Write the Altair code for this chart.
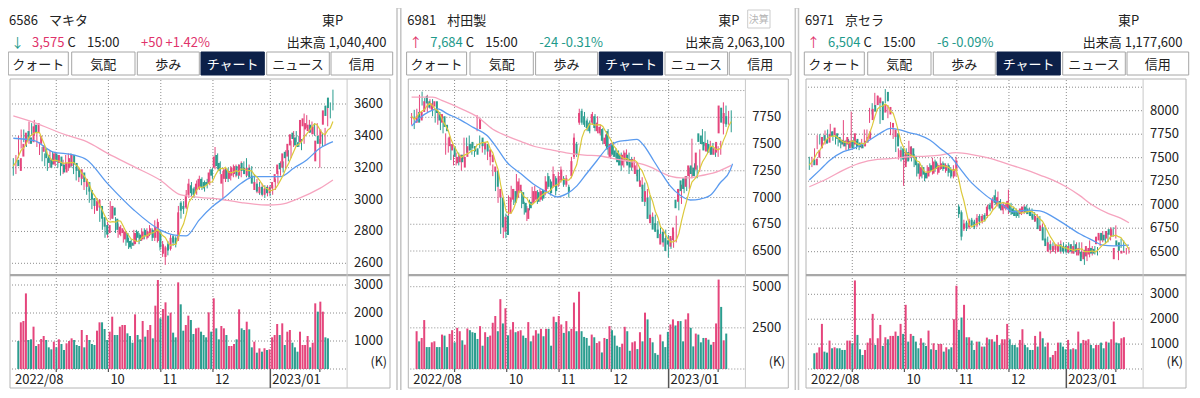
import altair as alt
import pandas as pd

FONT = "Noto Sans CJK JP"
PINK = "#e5457c"
TEAL = "#2b9d8f"
YEL = "#dcc93c"
BLUE = "#5b9bef"
MAPINK = "#f6a4bf"
GRID = "#8c8c8c"
TXT = "#222222"
HPINK = "#e0336b"
HTEAL = "#1e9a8b"

# ---------------- data ----------------
DATE_LABELS = ["2022/08", "10", "11", "12", "2023/01"]
DATE_POS = [-0.1, 36.3, 56.3, 76.2, 98.1]
MONTH_GRID = [16.4, 36.3, 56.3, 76.2, 98.1]
MONTH_TICKS = [16.4, 36.3, 56.3, 76.2, 117.0]
YEAR_LINE = [98.1]
TABS = ["クォート", "気配", "歩み", "チャート", "ニュース", "信用"]

# candles: (open, close, high, low)
MK_CANDLES = [
    (3250,3210,3260,3150),(3180,3260,3280,3160),(3270,3350,3400,3260),(3340,3420,3440,3320),(3430,3380,3440,3360),
    (3390,3350,3400,3330),(3360,3460,3490,3350),(3470,3420,3480,3400),(3420,3480,3500,3400),(3350,3400,3420,3330),
    (3300,3340,3360,3280),(3320,3260,3330,3240),(3280,3230,3290,3210),(3250,3200,3260,3180),(3220,3290,3310,3200),
    (3290,3240,3300,3220),(3230,3280,3300,3210),(3270,3210,3280,3200),(3220,3170,3230,3150),(3170,3230,3250,3160),
    (3200,3260,3280,3190),(3210,3280,3290,3180),(3280,3220,3290,3200),(3230,3180,3240,3160),(3190,3140,3200,3120),
    (3130,3190,3200,3110),(3170,3110,3180,3090),(3080,3130,3150,3060),(3110,3050,3120,3030),(3060,3000,3070,2980),
    (3010,2960,3020,2940),(2930,2990,3000,2910),(2950,3000,3010,2930),(2960,2880,2970,2860),(2890,2830,2900,2810),
    (2840,2780,2850,2760),(2790,2840,2860,2760),(2880,2960,2990,2870),(2950,2900,2960,2880),(2880,2810,2890,2790),
    (2780,2830,2850,2760),(2790,2820,2840,2770),(2750,2800,2810,2730),(2790,2730,2800,2710),(2740,2700,2760,2690),
    (2730,2710,2750,2690),(2720,2790,2810,2710),(2800,2760,2810,2740),(2780,2740,2790,2720),(2750,2800,2820,2740),
    (2810,2770,2820,2750),(2760,2800,2820,2750),(2780,2820,2840,2770),(2810,2760,2820,2740),(2760,2830,2870,2740),
    (2740,2860,2880,2730),(2800,2700,2810,2680),(2660,2720,2740,2640),(2640,2700,2710,2590),(2720,2680,2740,2650),
    (2690,2760,2780,2680),(2770,2730,2780,2710),(2760,2720,2770,2700),(2750,2920,2960,2740),(2980,2930,2990,2880),
    (2960,2940,2990,2910),(2950,3030,3060,2940),(3030,3100,3130,3010),(3090,3040,3110,3020),(3070,3030,3080,3010),
    (3040,3100,3120,3030),(3070,3130,3150,3060),(3130,3080,3140,3060),(3110,3070,3120,3050),(3110,3090,3130,3070),
    (3100,3170,3190,3090),(3190,3150,3200,3130),(3200,3270,3330,3190),(3280,3210,3290,3190),(3230,3180,3240,3160),
    (3100,3160,3180,3010),(3130,3190,3200,3110),(3190,3130,3200,3110),(3130,3180,3210,3120),(3150,3200,3220,3140),
    (3160,3210,3220,3140),(3210,3150,3220,3130),(3150,3220,3240,3140),(3230,3180,3240,3160),(3200,3160,3260,3140),
    (3150,3200,3220,3130),(3200,3140,3210,3120),(3150,3100,3160,3080),(3060,3110,3130,3040),(3100,3050,3110,3030),
    (3040,3080,3100,3020),(3080,3030,3090,3010),(3030,3070,3090,3020),(3080,3040,3090,3020),(3040,3080,3090,3030),
    (3070,3110,3130,3060),(3110,3160,3180,3100),(3160,3220,3240,3150),(3230,3190,3240,3170),(3200,3290,3310,3190),
    (3300,3260,3310,3240),(3270,3350,3370,3260),(3340,3410,3430,3330),(3420,3380,3430,3360),(3390,3340,3400,3330),
    (3360,3330,3380,3310),(3360,3500,3540,3350),(3460,3510,3530,3450),(3440,3480,3500,3420),(3430,3470,3490,3410),
    (3470,3420,3480,3400),(3410,3460,3480,3400),(3240,3370,3380,3200),(3400,3350,3420,3330),(3350,3440,3450,3340),
    (3470,3560,3590,3460),(3590,3525,3610,3510),(3640,3575,3690,3560),
]
MK_VOL = [
    1000,1667,1714,2700,1036,1060,1512,821,893,1071, 1179,1036,774,702,976,774,1060,893,679,917,
    1000,1095,1036,857,821,1393,774,1214,1036,893, 857,1369,1667,1667,1429,1036,1333,1869,1214,1214,
    1512,1571,1571,1274,1179,940,1952,1214,1060,1714, 1155,1393,1571,1095,2262,3179,1810,2143,2381,1905,
    2012,1298,1131,3095,2310,1369,1571,1905,1750,1250, 1452,1476,1333,1214,1131,2024,1333,2524,1452,1060,
    1536,1452,1214,821,821,893,1060,2131,1452,1393, 1690,1417,774,976,583,738,619,738,679,702,
    1131,1214,1607,1214,1631,857,1333,1393,940,774, 619,1333,857,857,1179,774,940,2345,2048,2405,
    2048,1131,1095,
]
MK_MA25_I = [0,8,15,23,28,36,46,56,61,66,71,76,81,87,92,97,102,107,112,117,122]
MK_MA25_V = [3385,3370,3300,3280,3250,3100,2935,2810,2779,2772,2873,2956,3019,3103,3144,3144,3144,3197,3249,3322,3364]
MK_MA75_I = [0,8,20,28,36,46,56,64,71,79,87,97,102,109,117,122]
MK_MA75_V = [3525,3483,3406,3364,3290,3207,3123,3029,3014,3002,2981,2966,2970,3008,3070,3123]

MU_CANDLES = [
    (7700,7760,7790,7680),(7800,7700,7820,7640),(7720,7800,7830,7700),(7800,7900,7960,7790),(7950,7880,7990,7860),
    (7900,7840,7930,7820),(7820,7880,7960,7800),(7850,7900,7920,7830),(7900,7790,7920,7760),(7800,7720,7820,7700),
    (7700,7780,7810,7680),(7760,7660,7780,7630),(7680,7620,7700,7600),(7480,7570,7600,7400),(7440,7500,7560,7420),
    (7480,7380,7500,7350),(7320,7380,7400,7300),(7330,7400,7420,7300),(7400,7330,7420,7300),(7280,7380,7400,7250),
    (7380,7480,7560,7360),(7500,7440,7560,7420),(7520,7460,7580,7440),(7480,7430,7500,7400),(7460,7400,7480,7380),
    (7640,7740,7770,7620),(7560,7480,7580,7460),(7450,7520,7540,7420),(7500,7430,7520,7400),(7380,7450,7470,7350),
    (7330,7400,7420,7300),(7240,7290,7310,7200),(7250,7100,7260,7060),(7000,7080,7100,6950),(7000,6720,7020,6660),
    (6680,6820,6840,6620),(6830,6650,6850,6620),(6850,7000,7020,6830),(6980,7080,7110,6960),(7060,6950,7080,6930),
    (7000,7150,7220,6980),(7060,7120,7180,7040),(7050,6940,7070,6900),(6950,6860,6960,6840),(6800,6900,6920,6780),
    (6960,6900,6980,6880),(6950,7060,7100,6940),(6980,7060,7110,6960),(7050,6960,7070,6940),(6980,7060,7080,6960),
    (7070,6990,7080,6970),(7040,7150,7200,7020),(7200,7100,7230,7080),(7150,7040,7170,7020),(7100,7220,7290,7090),
    (7180,7060,7200,7020),(7120,7200,7240,7100),(7160,7260,7290,7140),(7180,7120,7200,7100),(7120,7180,7210,7100),
    (7100,7050,7120,7000),(7200,7340,7380,7180),(7380,7560,7600,7360),(7500,7400,7520,7380),(7700,7790,7830,7680),
    (7810,7700,7830,7680),(7760,7680,7800,7660),(7720,7650,7740,7620),(7700,7620,7720,7600),(7700,7780,7800,7680),
    (7760,7650,7780,7620),(7620,7700,7760,7600),(7600,7660,7680,7580),(7640,7530,7650,7500),(7500,7560,7590,7480),
    (7620,7450,7640,7400),(7380,7500,7510,7360),(7500,7400,7520,7380),(7440,7380,7460,7360),(7420,7330,7440,7300),
    (7400,7300,7420,7250),(7300,7400,7440,7280),(7340,7420,7450,7320),(7400,7300,7420,7220),(7360,7280,7380,7250),
    (7280,7360,7380,7260),(7220,7300,7330,7200),(7260,7150,7280,7120),(7100,7160,7190,7080),(7120,6960,7140,6920),
    (6960,7060,7080,6940),(7000,6800,7020,6780),(6760,6840,6860,6740),(6820,6700,6840,6680),(6760,6680,6780,6660),
    (6700,6620,6720,6600),(6560,6660,6700,6540),(6680,6580,6700,6560),(6620,6500,6650,6440),(6600,6560,6620,6520),
    (6540,6640,6680,6530),(6600,6720,6830,6580),(6980,6900,7080,6880),(6960,7080,7120,6940),(7160,7060,7180,7040),
    (7180,7080,7200,7060),(7100,7200,7280,7080),(7200,7300,7550,7180),(7300,7220,7320,7200),(7280,7200,7300,7180),
    (7260,7420,7450,7240),(7600,7520,7640,7500),(7580,7500,7620,7480),(7520,7440,7540,7420),(7430,7510,7530,7400),
    (7500,7420,7510,7400),(7480,7400,7500,7380),(7400,7460,7480,7380),(7420,7520,7530,7400),(7600,7860,7890,7590),
    (7840,7700,7860,7660),(7690,7790,7810,7680),(7760,7684,7815,7610),
]
MU_VOL = [
    2296,1681,1886,2973,1332,1332,1620,1681,1332,1332, 2091,2030,1332,2132,2358,1620,2501,2296,1743,1476,
    2460,2358,2235,2194,1825,2604,1415,2235,1948,2030, 2809,3219,2296,4244,2768,3690,2050,2399,2850,2235,
    2296,2358,2030,1886,2850,1681,2030,2358,2153,2440, 1989,2440,2440,1415,3178,2850,3219,2706,2194,2911,
    2296,2440,4039,2296,4695,2296,1948,1886,1415,2091, 1927,1579,1681,1005,1886,1825,2604,2358,2030,1415,
    1332,1538,2563,2296,1107,1620,1681,1210,2235,1681, 3424,3014,1886,1620,964,861,2091,1681,1332,2255,
    2706,3014,2645,2911,2911,1681,3014,3383,2501,1374, 2153,2091,1620,1886,1886,1784,1476,1640,2768,5433,
    3772,1743,2153,
]
MU_MA25_I = [0,3,6.5,10,13.5,18.6,23.7,28.8,32.6,36.4,41.5,46.6,51.7,55.5,59.3,63.1,66.9,70.7,74.6,78.4,82.2,86,88.5,92.4,96.2,98.7,102.5,106.4,110.2,114,117.8,121.6,122.5]
MU_MA25_V = [7668,7741,7800,7829,7785,7726,7653,7579,7462,7330,7227,7124,7050,7006,7036,7109,7227,7344,7462,7521,7535,7544,7491,7344,7197,7109,7021,6977,6986,7021,7138,7256,7315]
MU_MA75_I = [0,8,12,19,25,31,36,42,47,53,59,66,72,78,85,91,96,99,103,106,110,115,122]
MU_MA75_V = [7938,7938,7903,7829,7756,7638,7579,7521,7477,7447,7418,7397,7388,7359,7330,7286,7227,7197,7183,7183,7203,7227,7300]

KY_CANDLES = [
    (7480,7420,7510,7370),(7420,7490,7510,7400),(7500,7580,7600,7480),(7600,7720,7740,7590),(7740,7680,7750,7640),
    (7700,7650,7720,7620),(7660,7750,7790,7640),(7780,7730,7800,7700),(7740,7820,7860,7720),(7760,7700,7780,7680),
    (7720,7660,7740,7640),(7690,7640,7720,7620),(7680,7620,7700,7600),(7640,7720,7900,7620),(7600,7680,7690,7580),
    (7680,7600,7700,7580),(7640,7760,7990,7620),(7700,7620,7720,7600),(7660,7610,7680,7590),(7640,7600,7660,7580),
    (7620,7680,7700,7600),(7660,7720,7800,7640),(7700,7780,7800,7680),(7900,8020,8030,7870),(8060,7990,8080,7960),
    (8060,8160,8190,8040),(8080,8140,8160,8060),(8100,7900,8120,7860),(7980,8060,8080,7960),(8200,8100,8230,8080),
    (7960,8040,8060,7920),(7820,7870,7880,7740),(7720,7800,7820,7700),(7760,7620,7780,7560),(7500,7580,7600,7480),
    (7600,7480,7620,7460),(7400,7560,7580,7200),(7560,7460,7600,7440),(7500,7620,7680,7480),(7600,7500,7620,7460),
    (7520,7420,7540,7400),(7440,7330,7460,7300),(7300,7400,7440,7270),(7400,7320,7420,7280),(7340,7280,7360,7250),
    (7300,7400,7420,7280),(7420,7360,7440,7340),(7330,7460,7500,7320),(7460,7380,7480,7350),(7340,7420,7440,7320),
    (7380,7440,7500,7370),(7440,7380,7460,7360),(7360,7420,7440,7340),(7420,7340,7440,7300),(7380,7300,7400,7280),
    (7300,7380,7420,7280),(7360,7470,7510,7300),(6980,6900,7000,6860),(6920,6660,6940,6620),(6740,6800,6840,6720),
    (6810,6750,6830,6720),(6760,6830,6850,6740),(6840,6780,6860,6760),(6820,6760,6840,6740),(6780,6860,6900,6760),
    (6880,6820,6900,6780),(6820,6880,6900,6800),(6890,6840,6910,6820),(6880,6980,7000,6860),(7000,6950,7020,6930),
    (6960,7060,7080,6940),(7100,7020,7160,7000),(7000,7080,7140,6980),(7040,6960,7060,6940),(6940,7000,7020,6900),
    (6960,7000,7020,6940),(6960,7040,7160,6900),(7000,6920,7020,6890),(6960,6900,6980,6880),(6940,6880,6960,6860),
    (6920,6880,6940,6860),(6900,6960,6980,6890),(6920,6980,7000,6900),(6980,6920,7000,6900),(6960,6900,6970,6880),
    (6940,6880,6960,6860),(6900,6840,6920,6820),(6820,6880,6900,6800),(6860,6740,6880,6720),(6720,6780,6800,6700),
    (6760,6620,6780,6600),(6640,6560,6660,6540),(6500,6600,6620,6480),(6580,6520,6600,6500),(6500,6560,6580,6480),
    (6520,6580,6600,6500),(6500,6560,6620,6480),(6580,6500,6600,6480),(6560,6500,6580,6480),(6560,6500,6600,6480),
    (6490,6560,6580,6480),(6580,6500,6620,6480),(6480,6560,6600,6460),(6580,6500,6600,6480),(6460,6540,6600,6440),
    (6500,6400,6520,6360),(6420,6500,6520,6400),(6450,6560,6620,6440),(6470,6540,6560,6460),(6540,6480,6560,6470),
    (6530,6480,6550,6460),(6580,6660,6680,6560),(6620,6700,6720,6600),(6700,6620,6720,6590),(6680,6620,6700,6600),
    (6640,6720,6760,6620),(6740,6680,6760,6660),(6660,6740,6780,6640),(6420,6540,6550,6410),(6620,6560,6640,6540),
    (6600,6510,6620,6500),(6480,6510,6540,6470),(6490,6504,6550,6480),
]
KY_VOL = [
    631,658,872,1812,698,658,1141,832,872,832, 832,765,765,1141,1141,1033,3556,1369,792,564,
    765,1060,1235,2214,966,1235,1771,926,1275,1194, 1329,1329,1503,1329,1812,1409,2577,1100,1409,1329,
    1100,832,1235,1060,926,1543,792,1033,765,1006, 1006,698,872,792,872,2000,3342,1570,2067,2577,
    1275,1275,1141,765,1100,1100,899,899,1261,1194, 1194,1100,1369,966,1194,1194,1812,1194,966,966,
    872,1168,1597,966,872,765,765,1329,899,1503, 1235,899,1060,470,564,725,1060,1060,899,792,
    1168,792,832,792,1503,1033,1168,1141,1194,966, 832,966,966,1060,832,1100,1060,1194,1906,1060,
    1033,1235,1275,
]
KY_MA25_I = [0,4,8,13,17,22,27,31,35,38,42,46,50,54,57.5,61,65,69,73,78,83,88,93,98,103,108,112,116,122]
KY_MA25_V = [7262,7368,7475,7564,7599,7670,7759,7812,7794,7766,7741,7688,7599,7510,7386,7262,7155,7066,7013,6924,6942,6935,6871,6783,6694,6623,6570,6562,6570]
KY_MA75_I = [0,7,13,19,26,32,38,45,50,56,63,69,75,83,88,93,98,103,108,114,119,122]
KY_MA75_V = [7191,7279,7368,7439,7482,7492,7510,7517,7528,7553,7528,7492,7439,7368,7315,7262,7191,7102,6996,6907,6854,6808]

STOCKS = [
    dict(code="6586", name="マキタ", arrow="↓", arrow_c=HTEAL, price="3,575", price_c=HPINK,
         chg="+50 +1.42%", vol_txt="出来高 1,040,400", market_x=322,
         candles=MK_CANDLES, vol=MK_VOL, m25=(MK_MA25_I, MK_MA25_V), m75=(MK_MA75_I, MK_MA75_V),
         pdom=[2600, 3600], prng=[255.3, 96.0], pgrid=[2600, 2800, 3000, 3200, 3400, 3600],
         pticks=[2600, 2800, 3000, 3200, 3400, 3600],
         vdom=[0, 3000], vrng=[361.0, 277.0], vticks=[1000, 2000, 3000]),
    dict(code="6981", name="村田製", arrow="↑", arrow_c=HPINK, price="7,684", price_c=HTEAL,
         chg="-24 -0.31%", vol_txt="出来高 2,063,100", market_x=320,
         candles=MU_CANDLES, vol=MU_VOL, m25=(MU_MA25_I, MU_MA25_V), m75=(MU_MA75_I, MU_MA75_V),
         pdom=[6500, 7750], prng=[243.0, 109.3], pgrid=[6500, 6750, 7000, 7250, 7500, 7750, 8000],
         pticks=[6500, 6750, 7000, 7250, 7500, 7750],
         vdom=[0, 5000], vrng=[361.0, 278.7], vticks=[2500, 5000]),
    dict(code="6971", name="京セラ", arrow="↑", arrow_c=HPINK, price="6,504", price_c=HTEAL,
         chg="-6 -0.09%", vol_txt="出来高 1,177,600", market_x=322,
         candles=KY_CANDLES, vol=KY_VOL, m25=(KY_MA25_I, KY_MA25_V), m75=(KY_MA75_I, KY_MA75_V),
         pdom=[6500, 8000], prng=[243.7, 102.7], pgrid=[6500, 6750, 7000, 7250, 7500, 7750, 8000, 8250],
         pticks=[6500, 6750, 7000, 7250, 7500, 7750, 8000],
         vdom=[0, 3000], vrng=[361.0, 286.3], vticks=[1000, 2000, 3000]),
]

OFFS = [0.0, 398.3, 796.0]
TAB_X = [(8.3, 68.3), (71.7, 135.0), (137.3, 199.3), (201.0, 264.3), (266.7, 329.3), (331.0, 392.7)]
D = 8.0  # page margin offset


def P(v):
    return v - D


# ---------------- decoration (layout) ----------------
HF = 13
rects, texts_l, texts_r, texts_c = [], [], [], []
for k, s in enumerate(STOCKS):
    off = OFFS[k]
    rects.append(dict(x=P(off + 2.5), x2=P(off + 397), y=P(3), y2=P(395.5), fill="#ffffff", stroke="#c4c4c4", sw=1.5))
    rects.append(dict(x=P(off + 10), x2=P(off + 390), y=P(79), y2=P(388), fill="#ffffff", stroke="#b4b4b4", sw=1))
    for j, (a, b) in enumerate(TAB_X):
        active = j == 3
        rects.append(dict(x=P(off + a), x2=P(off + b), y=P(52), y2=P(75),
                          fill="#0c2048" if active else "#ffffff",
                          stroke="#0c2048" if active else "#a6a6a6", sw=1))
        texts_c.append(dict(x=P(off + (a + b) / 2), y=P(64.5), t=TABS[j],
                            c="#ffffff" if active else TXT, s=13))
    if k == 1:
        rects.append(dict(x=P(off + 349.4), x2=P(off + 371.7), y=P(10), y2=P(28), fill="#ffffff", stroke="#cccccc", sw=1))
        texts_c.append(dict(x=P(off + 360.5), y=P(19.5), t="決算", c="#b5b5b5", s=10))
    texts_l += [
        dict(x=P(off + 9), y=P(20.5), t=s["code"], c=TXT, s=HF),
        dict(x=P(off + 49), y=P(20.5), t=s["name"], c=TXT, s=HF),
        dict(x=P(off + s["market_x"]), y=P(20.5), t="東P", c=TXT, s=HF),
        dict(x=P(off + 11), y=P(42.5), t=s["arrow"], c=s["arrow_c"], s=HF),
        dict(x=P(off + 32), y=P(42.5), t=s["price"], c=s["price_c"], s=HF),
        dict(x=P(off + 67.5), y=P(42.5), t="C", c=TXT, s=HF),
        dict(x=P(off + 87), y=P(42.5), t="15:00", c=TXT, s=HF),
        dict(x=P(off + 141), y=P(42.5), t=s["chg"], c=s["price_c"], s=HF),
    ]
    texts_r.append(dict(x=P(off + 386.5), y=P(42.5), t=s["vol_txt"], c=TXT, s=HF))
    texts_r.append(dict(x=P(off + 387), y=P(362), t="(K)", c=TXT, s=12.5))

sep_rects = []
for k in range(3):
    off = OFFS[k]
    sep_rects.append(dict(x=P(off + 10), x2=P(off + 390), y=P(274), y2=P(276.2), fill="#a8a8a8", stroke="#a8a8a8", sw=0))
    sep_rects.append(dict(x=P(off + 346.6), x2=P(off + 347.6), y=P(79), y2=P(388), fill="#c8c8c8", stroke="#c8c8c8", sw=0))


def rect_layer(rows):
    return alt.Chart(pd.DataFrame(rows)).mark_rect().encode(
        x=alt.X("x:Q", scale=None, axis=None), x2="x2:Q",
        y=alt.Y("y:Q", scale=None, axis=None), y2="y2:Q",
        fill=alt.Fill("fill:N", scale=None),
        stroke=alt.Stroke("stroke:N", scale=None),
        strokeWidth=alt.StrokeWidth("sw:Q", scale=None),
    )


def text_layer(rows, align):
    return alt.Chart(pd.DataFrame(rows)).mark_text(align=align, baseline="middle", font=FONT).encode(
        x=alt.X("x:Q", scale=None, axis=None), y=alt.Y("y:Q", scale=None, axis=None),
        text="t:N", color=alt.Color("c:N", scale=None), size=alt.Size("s:Q", scale=None),
    )


# ---------------- chart panels ----------------
def panel(k, s):
    off = OFFS[k]
    x0 = P(off + 13.3)
    xs = alt.Scale(domain=[0, 122], range=[x0, x0 + 122 * 2.62])
    ys = alt.Scale(domain=s["pdom"], range=s["prng"], zero=False, nice=False)
    vs = alt.Scale(domain=s["vdom"], range=s["vrng"], zero=False, nice=False)
    cd = s["candles"]
    df = pd.DataFrame({
        "i": list(range(len(cd))),
        "o": [t[0] for t in cd], "c": [t[1] for t in cd],
        "h": [t[2] for t in cd], "l": [t[3] for t in cd],
        "v": s["vol"], "z": [0] * len(cd),
    })
    col = alt.condition("datum.c >= datum.o", alt.value(PINK), alt.value(TEAL))
    X = alt.X("i:Q", scale=xs, axis=None)
    base = alt.Chart(df)
    L = []
    # grid
    L.append(alt.Chart(pd.DataFrame({"t": s["pgrid"]})).mark_rule(color=GRID, strokeDash=[1, 2], strokeWidth=1).encode(
        y=alt.Y("t:Q", scale=ys, axis=None), x=alt.value(P(off + 12)), x2=alt.value(P(off + 346.5))))
    L.append(alt.Chart(pd.DataFrame({"t": [0] + s["vticks"]})).mark_rule(color=GRID, strokeDash=[1, 2], strokeWidth=1).encode(
        y=alt.Y("t:Q", scale=vs, axis=None), x=alt.value(P(off + 12)), x2=alt.value(P(off + 346.5))))
    L.append(alt.Chart(pd.DataFrame({"g": MONTH_GRID})).mark_rule(color=GRID, strokeDash=[1, 2], strokeWidth=1).encode(
        x=alt.X("g:Q", scale=xs, axis=None), y=alt.value(P(80)), y2=alt.value(P(369))))
    L.append(alt.Chart(pd.DataFrame({"g": MONTH_TICKS})).mark_rule(color="#555555", strokeWidth=1.2).encode(
        x=alt.X("g:Q", scale=xs, axis=None), y=alt.value(P(369)), y2=alt.value(P(372))))
    L.append(alt.Chart(pd.DataFrame({"g": YEAR_LINE})).mark_rule(color="#555555", strokeWidth=1.5).encode(
        x=alt.X("g:Q", scale=xs, axis=None), y=alt.value(P(369)), y2=alt.value(P(388))))
    # candles
    L.append(base.mark_rule(strokeWidth=1).encode(
        x=X, y=alt.Y("l:Q", scale=ys, axis=None), y2="h:Q", color=col))
    L.append(base.mark_bar(size=2).encode(
        x=X, y=alt.Y("o:Q", scale=ys, axis=None), y2="c:Q", color=col))
    # volume
    L.append(base.mark_bar(size=2).encode(
        x=X, y=alt.Y("v:Q", scale=vs, axis=None), y2="z:Q", color=col))
    # moving averages
    L.append(alt.Chart(pd.DataFrame({"i": s["m75"][0], "m": s["m75"][1]})).mark_line(
        color=MAPINK, strokeWidth=1.3, interpolate="monotone").encode(x=X, y=alt.Y("m:Q", scale=ys, axis=None)))
    L.append(alt.Chart(pd.DataFrame({"i": s["m25"][0], "m": s["m25"][1]})).mark_line(
        color=BLUE, strokeWidth=1.3, interpolate="monotone").encode(x=X, y=alt.Y("m:Q", scale=ys, axis=None)))
    L.append(base.transform_window(m="mean(c)", frame=[-4, 0], sort=[alt.SortField("i")]).mark_line(
        color=YEL, strokeWidth=1.2).encode(x=X, y=alt.Y("m:Q", scale=ys, axis=None)))
    # tick labels
    L.append(alt.Chart(pd.DataFrame({"t": s["pticks"], "s": [str(t) for t in s["pticks"]]})).mark_text(
        align="left", baseline="middle", font=FONT, fontSize=13, color=TXT).encode(
        y=alt.Y("t:Q", scale=ys, axis=None), x=alt.value(P(off + 354)), text="s:N"))
    L.append(alt.Chart(pd.DataFrame({"t": s["vticks"], "s": [str(t) for t in s["vticks"]]})).mark_text(
        align="left", baseline="middle", font=FONT, fontSize=13, color=TXT).encode(
        y=alt.Y("t:Q", scale=vs, axis=None), x=alt.value(P(off + 354)), text="s:N"))
    L.append(alt.Chart(pd.DataFrame({"g": DATE_POS, "s": DATE_LABELS})).mark_text(
        align="left", baseline="middle", font=FONT, fontSize=13, color=TXT, dx=2).encode(
        x=alt.X("g:Q", scale=xs, axis=None), y=alt.value(P(380)), text="s:N"))
    return L


layers = [rect_layer(rects)]
for k, s in enumerate(STOCKS):
    layers += panel(k, s)
layers.append(rect_layer(sep_rects))
layers.append(text_layer(texts_l, "left"))
layers.append(text_layer(texts_r, "right"))
layers.append(text_layer(texts_c, "center"))

chart = alt.layer(*layers).resolve_scale(x="independent", y="independent").properties(
    width=1184, height=382, padding=0, autosize=alt.AutoSizeParams(type="none"),
).configure_view(stroke=None).configure(background="#ffffff")

chart.save("out.html", embed_options={"renderer": "svg", "actions": False})
